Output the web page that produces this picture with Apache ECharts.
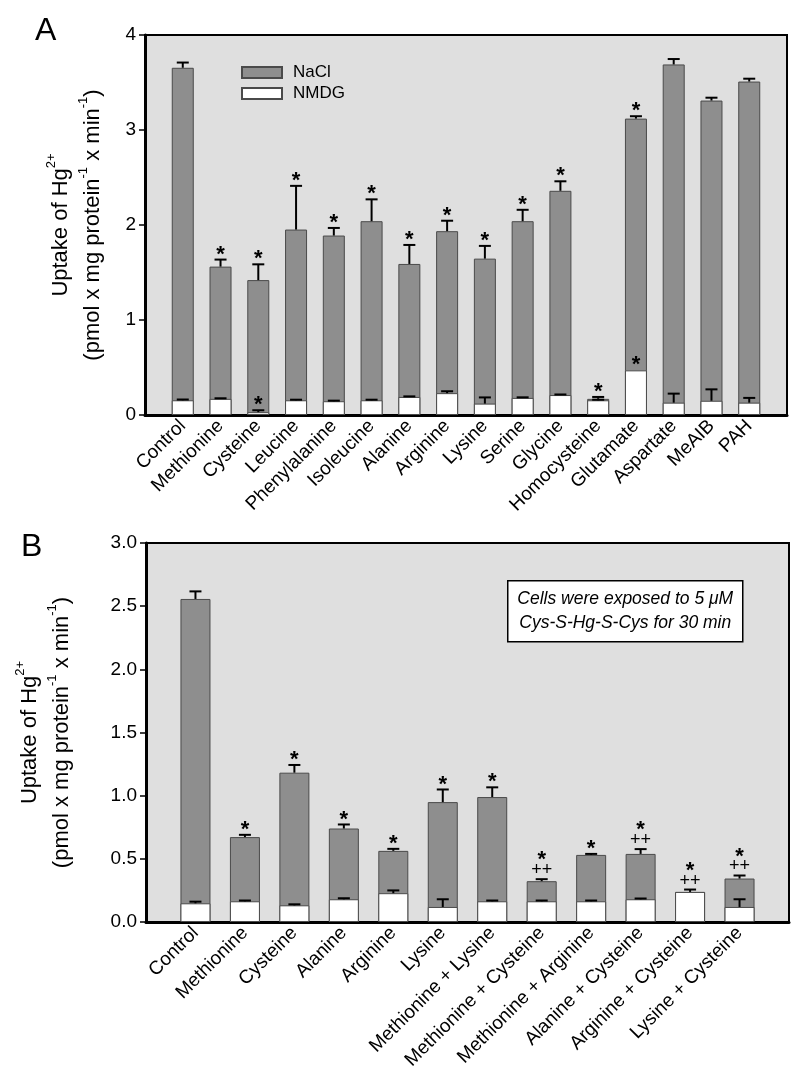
<!DOCTYPE html>
<html><head><meta charset="utf-8">
<script src="https://cdn.jsdelivr.net/npm/echarts@6/dist/echarts.min.js"></script>
<style>html,body{margin:0;padding:0;background:#fff}#c{width:800px;height:1088px}</style>
</head><body><div id="c"></div>
<script>
// ---------- Panel A data ----------
const catsA = ['Control','Methionine','Cysteine','Leucine','Phenylalanine','Isoleucine','Alanine','Arginine','Lysine','Serine','Glycine','Homocysteine','Glutamate','Aspartate','MeAIB','PAH'];
const naclA = [3.655, 1.562, 1.42, 1.952, 1.889, 2.04, 1.59, 1.935, 1.646, 2.04, 2.36, 0.17, 3.12, 3.69, 3.31, 3.51];
const naclErrA = [0.055, 0.074, 0.166, 0.46, 0.08, 0.23, 0.2, 0.11, 0.134, 0.12, 0.1, 0.02, 0.025, 0.057, 0.03, 0.03];
const nmdgA = [0.155, 0.17, 0.03, 0.155, 0.145, 0.155, 0.19, 0.23, 0.12, 0.18, 0.21, 0.155, 0.47, 0.13, 0.15, 0.13];
const nmdgErrA = [0.008, 0.006, 0.02, 0.006, 0.006, 0.006, 0.006, 0.02, 0.065, 0.006, 0.006, 0.006, 0, 0.095, 0.12, 0.05];
const sigNaclA = ['', '*', '*', '*', '*', '*', '*', '*', '*', '*', '*', '*', '*', '', '', ''];
const sigNmdgA = ['', '', '*', '', '', '', '', '', '', '', '', '', '*', '', '', ''];
const ticksA = [0, 1, 2, 3, 4];

// ---------- Panel B data ----------
const catsB = ['Control','Methionine','Cysteine','Alanine','Arginine','Lysine','Methionine + Lysine','Methionine + Cysteine','Methionine + Arginine','Alanine + Cysteine','Arginine + Cysteine','Lysine + Cysteine'];
const naclB = [2.557, 0.672, 1.182, 0.74, 0.563, 0.949, 0.989, 0.323, 0.531, 0.539, 0.238, 0.344];
const naclErrB = [0.06, 0.018, 0.061, 0.032, 0.016, 0.1, 0.077, 0.016, 0.008, 0.038, 0.019, 0.024];
const nmdgB = [0.148, 0.164, 0.132, 0.18, 0.228, 0.119, 0.164, 0.164, 0.164, 0.18, 0.238, 0.119];
const nmdgErrB = [0.013, 0.006, 0.008, 0.008, 0.022, 0.061, 0.006, 0.006, 0.006, 0.006, 0, 0.061];
const sigB = ['', '*', '*', '*', '*', '*', '*', '*', '*', '*', '*', '*'];
const sig2B = ['', '', '', '', '', '', '', '++', '', '++', '++', '++'];
const ticksB = [0, 0.5, 1, 1.5, 2, 2.5, 3];

const FF = '"Liberation Sans", Arial, Helvetica, sans-serif';
const GRAY = '#8e8e8e', EDGE = '#4a4a4a', BG = '#dfdfdf';

function errSeries(xi, vals, errs, sig1, sig2, capHalf) {
  return {
    type: 'custom', xAxisIndex: xi, yAxisIndex: xi, z: 10, silent: true,
    data: vals.map((v, i) => [i, v, v + errs[i]]),
    renderItem: (params, api) => {
      const i = params.dataIndex;
      const x = api.value(0), v = api.value(1), t = api.value(2);
      const p0 = api.coord([x, v]), p1 = api.coord([x, t]);
      const ch = [];
      if (t > v) {
        ch.push({type: 'line', shape: {x1: p0[0], y1: p0[1], x2: p1[0], y2: p1[1]}, style: {stroke: '#000', lineWidth: 2}});
        ch.push({type: 'line', shape: {x1: p1[0] - capHalf, y1: p1[1], x2: p1[0] + capHalf, y2: p1[1]}, style: {stroke: '#000', lineWidth: 2}});
      }
      let y = p1[1];
      const s2 = sig2 ? sig2[i] : '';
      if (s2) {
        ch.push({type: 'text', style: {text: s2, x: p1[0], y: y - 9, align: 'center', verticalAlign: 'middle', fontSize: 18, fontFamily: FF, fill: '#000'}});
        y -= 14;
      }
      if (sig1[i]) {
        ch.push({type: 'text', style: {text: sig1[i], x: p1[0], y: y - 5, align: 'center', verticalAlign: 'middle', fontSize: 22, fontWeight: 'bold', fontFamily: FF, fill: '#000'}});
      }
      return {type: 'group', children: ch};
    }
  };
}

const yName = '{t|Uptake of Hg}{s|2+}\n{t|(pmol x mg protein}{s|-1}{t| x min}{s|-1}{t|)}';
const yRich = {
  t: {fontSize: 22, fontFamily: FF, color: '#000', lineHeight: 32},
  s: {fontSize: 13, fontFamily: FF, color: '#000', verticalAlign: 'top', lineHeight: 14}
};

function xAxisDef(gi, cats) {
  return {
    type: 'value', gridIndex: gi, min: -1, max: cats.length, interval: 1,
    axisLine: {show: true, onZero: false, lineStyle: {color: '#000', width: 3}},
    axisTick: {show: false}, splitLine: {show: false},
    axisLabel: {
      rotate: 45, margin: 8, fontSize: 19, fontFamily: FF, color: '#000',
      formatter: v => (v >= 0 && v < cats.length && Number.isInteger(v)) ? cats[v] : ''
    }
  };
}

function yAxisDef(gi, ticks, step, gap, fmt) {
  return {
    type: 'value', gridIndex: gi, min: ticks[0], max: ticks[ticks.length - 1], interval: step,
    axisLine: {show: true, onZero: false, lineStyle: {color: '#000', width: 3}},
    axisTick: {show: true, length: 6, lineStyle: {color: '#000', width: 1.5}},
    splitLine: {show: false},
    axisLabel: {fontSize: 19, fontFamily: FF, color: '#000', margin: 9, formatter: fmt},
    name: yName, nameLocation: 'middle', nameRotate: 90, nameGap: gap,
    nameTextStyle: {rich: yRich, align: 'center'}
  };
}

const chart = echarts.init(document.getElementById('c'), null, {renderer: 'canvas'});
chart.setOption({
  animation: false,
  backgroundColor: '#fff',
  title: [
    {text: 'A', left: 30, top: 10, textStyle: {fontSize: 32, fontWeight: 'normal', fontFamily: FF, color: '#000'}},
    {text: 'B', left: 16, top: 526, textStyle: {fontSize: 32, fontWeight: 'normal', fontFamily: FF, color: '#000'}}
  ],
  legend: {
    data: ['NaCl', 'NMDG'], orient: 'vertical', left: 236, top: 59, itemGap: 4,
    itemWidth: 40, itemHeight: 11, icon: 'rect', selectedMode: false,
    textStyle: {fontSize: 17, fontFamily: FF, color: '#000', padding: [0, 0, 0, 6]}
  },
  grid: [
    {left: 145, top: 35, width: 642, height: 380, show: true, backgroundColor: BG, borderColor: '#000', borderWidth: 2},
    {left: 146, top: 543, width: 643, height: 379, show: true, backgroundColor: BG, borderColor: '#000', borderWidth: 2}
  ],
  xAxis: [xAxisDef(0, catsA), xAxisDef(1, catsB)],
  yAxis: [
    yAxisDef(0, ticksA, 1, 36, v => String(v)),
    yAxisDef(1, ticksB, 0.5, 68, v => v.toFixed(1))
  ],
  graphic: [{
    type: 'group', left: 507, top: 580,
    children: [
      {type: 'rect', shape: {x: 0, y: 0, width: 235, height: 61}, style: {fill: '#fff', stroke: '#000', lineWidth: 1.5}},
      {type: 'text', style: {text: 'Cells were exposed to 5 \u03bcM\nCys-S-Hg-S-Cys for 30 min', x: 117.5, y: 30.5, align: 'center', verticalAlign: 'middle', fontSize: 17.5, fontStyle: 'italic', fontFamily: FF, lineHeight: 24, fill: '#000'}}
    ]
  }],
  series: [
    {type: 'bar', name: 'NaCl', xAxisIndex: 0, yAxisIndex: 0, barWidth: 22, barGap: '-100%', z: 2,
     itemStyle: {color: GRAY, borderColor: EDGE, borderWidth: 1}, data: naclA.map((v, i) => [i, v])},
    {type: 'bar', name: 'NMDG', xAxisIndex: 0, yAxisIndex: 0, barWidth: 22, barGap: '-100%', z: 3,
     itemStyle: {color: '#fff', borderColor: EDGE, borderWidth: 1}, data: nmdgA.map((v, i) => [i, v])},
    {type: 'bar', name: 'NaCl', xAxisIndex: 1, yAxisIndex: 1, barWidth: 30, barGap: '-100%', z: 2,
     itemStyle: {color: GRAY, borderColor: EDGE, borderWidth: 1}, data: naclB.map((v, i) => [i, v])},
    {type: 'bar', name: 'NMDG', xAxisIndex: 1, yAxisIndex: 1, barWidth: 30, barGap: '-100%', z: 3,
     itemStyle: {color: '#fff', borderColor: EDGE, borderWidth: 1}, data: nmdgB.map((v, i) => [i, v])},
    errSeries(0, naclA, naclErrA, sigNaclA, null, 6),
    errSeries(0, nmdgA, nmdgErrA, sigNmdgA, null, 6),
    errSeries(1, naclB, naclErrB, sigB, sig2B, 6),
    errSeries(1, nmdgB, nmdgErrB, ['', '', '', '', '', '', '', '', '', '', '', ''], null, 6)
  ]
});
</script></body></html>
